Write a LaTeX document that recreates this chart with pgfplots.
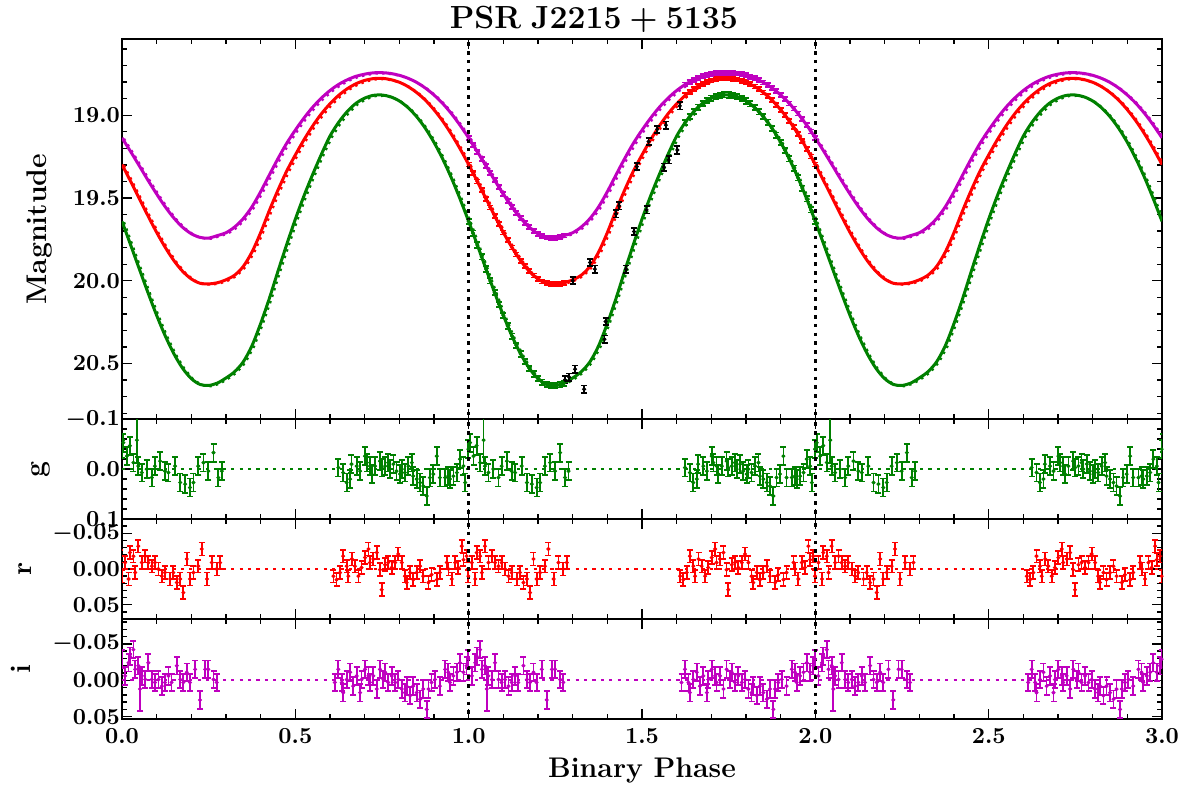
\RequirePackage{fix-cm}
\documentclass[border=0pt]{standalone}
\usepackage{pgfplots}
\pgfplotsset{compat=1.18}
\usepackage{pgfplotstable}

\definecolor{mg}{rgb}{0,0.5,0}
\definecolor{mr}{rgb}{1,0,0}
\definecolor{mm}{rgb}{0.75,0,0.75}

% model light curves, one orbit (plotted three times)
\pgfplotstableread{
p     g      r      i
0.000 19.641 19.298 19.137
0.025 19.784 19.400 19.220
0.050 19.929 19.504 19.306
0.075 20.072 19.608 19.393
0.100 20.209 19.708 19.476
0.125 20.334 19.799 19.554
0.150 20.442 19.879 19.622
0.175 20.529 19.943 19.677
0.200 20.591 19.989 19.716
0.225 20.626 20.015 19.738
0.250 20.632 20.019 19.742
0.275 20.618 20.012 19.727
0.300 20.587 19.994 19.710
0.325 20.549 19.966 19.675
0.350 20.489 19.913 19.624
0.375 20.392 19.826 19.553
0.400 20.258 19.709 19.462
0.425 20.107 19.576 19.361
0.450 19.942 19.452 19.262
0.475 19.782 19.338 19.170
0.500 19.628 19.240 19.090
0.525 19.487 19.148 19.017
0.550 19.358 19.065 18.952
0.575 19.237 18.992 18.897
0.600 19.126 18.931 18.851
0.625 19.043 18.880 18.814
0.650 18.977 18.840 18.786
0.675 18.928 18.810 18.765
0.700 18.897 18.790 18.752
0.725 18.880 18.779 18.744
0.750 18.878 18.777 18.743
0.775 18.889 18.785 18.748
0.800 18.914 18.801 18.759
0.825 18.954 18.827 18.777
0.850 19.009 18.863 18.802
0.875 19.079 18.909 18.836
0.900 19.164 18.967 18.878
0.925 19.264 19.035 18.929
0.950 19.378 19.114 18.990
0.975 19.505 19.202 19.060
1.000 19.641 19.298 19.137
}\curves

% observed g, r, i photometry
\pgfplotstableread{
p      g      r      i
1.0000 19.641 19.298 19.137
1.0125 19.712 19.348 19.178
1.0250 19.784 19.400 19.220
1.0375 19.856 19.452 19.263
1.0500 19.929 19.504 19.306
1.0625 20.001 19.557 19.350
1.0750 20.072 19.608 19.393
1.0875 20.142 19.659 19.435
1.1000 20.209 19.708 19.476
1.1125 20.273 19.755 19.516
1.1250 20.334 19.799 19.554
1.1375 20.390 19.841 19.589
1.1500 20.442 19.879 19.622
1.1625 20.488 19.913 19.651
1.1750 20.529 19.943 19.677
1.1875 20.563 19.968 19.699
1.2000 20.591 19.989 19.716
1.2125 20.612 20.004 19.730
1.2250 20.626 20.015 19.738
1.2375 20.632 20.020 19.743
1.2500 20.632 20.019 19.742
1.2625 20.629 20.018 19.737
1.2750 20.618 20.012 19.727
1.6250 19.043 18.880 18.814
1.6375 19.008 18.859 18.799
1.6500 18.977 18.840 18.786
1.6625 18.951 18.824 18.775
1.6750 18.928 18.810 18.765
1.6875 18.911 18.799 18.758
1.7000 18.897 18.790 18.752
1.7125 18.887 18.783 18.747
1.7250 18.880 18.779 18.744
1.7375 18.877 18.777 18.743
1.7500 18.878 18.777 18.743
1.7625 18.881 18.780 18.745
1.7750 18.889 18.785 18.748
1.7875 18.900 18.792 18.753
1.8000 18.914 18.801 18.759
1.8125 18.932 18.813 18.767
1.8250 18.954 18.827 18.777
1.8375 18.980 18.843 18.788
1.8500 19.009 18.863 18.802
1.8625 19.042 18.885 18.818
1.8750 19.079 18.909 18.836
1.8875 19.120 18.937 18.856
1.9000 19.164 18.967 18.878
1.9125 19.212 18.999 18.903
1.9250 19.264 19.035 18.929
1.9375 19.320 19.073 18.959
1.9500 19.378 19.114 18.990
1.9625 19.440 19.157 19.024
1.9750 19.505 19.202 19.060
1.9875 19.572 19.249 19.098
2.0000 19.641 19.298 19.137
}\obs

% other-instrument points (black)
\pgfplotstableread{
p     v
1.300 19.999
1.350 19.890
1.364 19.930
1.425 19.596
1.434 19.548
1.485 19.310
1.519 19.159
1.544 19.085
1.569 19.060
1.609 18.944
1.278 20.598
1.290 20.582
1.307 20.534
1.333 20.655
1.392 20.353
1.395 20.246
1.454 19.930
1.477 19.703
1.513 19.572
1.563 19.314
1.577 19.270
1.602 19.210
}\blk

% residuals, one orbit
\pgfplotstableread{
p     v
0.624 -0.003
0.638 0.007
0.648 0.027
0.658 0.020
0.662 -0.010
0.677 -0.006
0.687 0.004
0.701 -0.026
0.706 -0.013
0.715 -0.006
0.720 0.010
0.730 -0.006
0.744 -0.016
0.749 -0.003
0.759 -0.006
0.768 -0.013
0.773 0.000
0.783 -0.010
0.792 0.004
0.802 0.010
0.807 0.000
0.816 0.007
0.826 -0.006
0.836 -0.013
0.840 0.014
0.850 0.020
0.860 0.027
0.869 0.034
0.879 0.054
0.888 0.017
0.898 0.010
0.908 -0.026
0.917 0.017
0.932 0.017
0.941 0.014
0.946 0.020
0.956 0.014
0.966 0.007
0.975 -0.020
0.985 -0.006
0.990 0.027
0.999 -0.040
1.004 -0.053
1.014 -0.026
1.023 -0.047
1.033 -0.013
1.047 -0.006
1.057 0.007
1.071 0.000
1.086 0.017
1.095 -0.006
1.110 -0.016
1.124 0.004
1.134 0.007
1.153 -0.006
1.168 0.027
1.182 0.030
1.196 0.037
1.206 0.027
1.220 -0.006
1.235 -0.013
1.249 0.004
1.264 -0.033
1.278 0.017
1.288 0.004
}\gres

\pgfplotstableread{
p     v
0.610 0.010
0.619 0.015
0.629 0.005
0.638 -0.018
0.648 -0.004
0.653 0.010
0.663 -0.014
0.672 -0.004
0.682 0.010
0.691 -0.002
0.701 -0.016
0.711 -0.028
0.715 -0.009
0.725 -0.014
0.735 -0.023
0.744 0.001
0.749 0.029
0.759 -0.006
0.768 -0.009
0.778 -0.002
0.788 -0.009
0.797 -0.021
0.807 -0.009
0.816 0.010
0.821 0.019
0.831 0.005
0.840 0.015
0.850 0.005
0.860 -0.004
0.869 0.010
0.884 0.019
0.893 0.008
0.908 0.015
0.917 0.005
0.937 -0.009
0.942 0.000
0.951 0.014
0.961 -0.009
0.970 -0.002
0.980 -0.032
0.985 -0.013
0.994 -0.018
0.999 0.010
1.009 -0.009
1.019 0.014
1.023 -0.023
1.033 -0.018
1.038 0.005
1.047 -0.032
1.057 -0.009
1.067 -0.018
1.076 -0.009
1.086 -0.004
1.095 -0.009
1.105 0.000
1.115 0.010
1.124 0.005
1.139 0.014
1.148 0.005
1.158 0.019
1.168 0.014
1.177 0.033
1.187 -0.014
1.196 0.014
1.206 0.005
1.220 -0.004
1.230 -0.028
1.245 0.014
1.259 -0.009
1.273 0.000
1.283 -0.009
}\rres

\pgfplotstableread{
p     v
0.614 0.003
0.624 -0.015
0.634 0.003
0.638 0.017
0.648 -0.001
0.658 -0.011
0.667 0.008
0.677 -0.006
0.687 0.017
0.691 -0.001
0.701 -0.015
0.711 -0.006
0.715 0.003
0.725 -0.006
0.735 0.012
0.744 -0.015
0.754 -0.001
0.759 -0.011
0.768 0.003
0.778 -0.006
0.788 0.003
0.797 -0.001
0.807 0.012
0.816 0.017
0.821 0.008
0.831 0.021
0.840 0.008
0.850 0.017
0.860 0.026
0.869 0.012
0.879 0.040
0.884 0.012
0.893 0.003
0.903 -0.001
0.917 0.008
0.932 -0.015
0.941 -0.011
0.946 0.003
0.956 -0.006
0.966 -0.011
0.975 -0.024
0.985 -0.011
0.994 -0.020
0.999 -0.029
1.009 -0.006
1.019 -0.024
1.023 -0.033
1.033 -0.042
1.038 -0.015
1.047 -0.020
1.057 -0.006
1.067 -0.001
1.076 -0.024
1.086 -0.001
1.095 0.003
1.105 -0.001
1.115 0.008
1.124 0.003
1.134 -0.006
1.143 0.003
1.158 -0.020
1.168 -0.001
1.177 0.003
1.187 -0.011
1.196 0.003
1.211 -0.015
1.225 0.027
1.240 -0.015
1.249 -0.015
1.264 -0.001
1.273 0.003
}\ires

\pgfplotsset{
  lc/.style={scale only axis, width=520pt, xmin=0, xmax=3, y dir=reverse,
    anchor=south west, clip=true, scaled y ticks=false, scaled x ticks=false,
    axis line style={line width=0.8pt},
    tick style={black, line width=0.7pt},
    major tick length=5pt, minor tick length=2.6pt,
    tick align=inside, tick pos=both,
    xtick={0,0.5,1,1.5,2,2.5,3}, minor x tick num=4, minor y tick num=4,
    tick label style={font=\fontsize{11.5}{13}\selectfont\boldmath},
    xticklabel style={yshift=-1pt, /pgf/number format/fixed, /pgf/number format/fixed zerofill,
      /pgf/number format/precision=1},
    label style={font=\fontsize{14.2}{17}\selectfont\bfseries}},
  yp/.style={yticklabel style={xshift=2.5pt, /pgf/number format/fixed,
      /pgf/number format/fixed zerofill, /pgf/number format/precision=#1}},
  ebar/.style={only marks, mark=*, mark size=0.8pt, color=#1,
    error bars/y dir=both,
    error bars/error bar style={line width=0.9pt, #1},
    error bars/error mark options={rotate=90, line width=0.9pt, mark size=1.5pt, #1}},
  model/.style={#1, line width=1.5pt},
  dmodel/.style={#1, line width=1.1pt, dash pattern=on 1.2pt off 2.2pt},
  zline/.style={#1, line width=1.2pt, dash pattern=on 1.6pt off 2.6pt},
  vline/.style={black, line width=1.8pt, dash pattern=on 1.8pt off 2.6pt},
}

\begin{document}
\begin{tikzpicture}
\useasboundingbox (0,0) rectangle (594pt,394pt);

% light curves
\begin{axis}[lc, at={(61pt,184.4pt)}, height=190pt,
    ymin=18.541, ymax=20.836, ytick={18.5,19,19.5,20,20.5,21}, yp=1,
    xticklabels={},
    ylabel={Magnitude},
    ylabel style={at={(axis description cs:-0.079,0.5)}, anchor=center},
    title={$\mathbf{PSR\ J2215+5135}$},
    every axis title shift=0pt,
    title style={at={(axis description cs:0.4538,1.0284)}, anchor=base, yshift=0pt,
      font=\fontsize{16}{19}\selectfont\boldmath}]
\pgfplotsinvokeforeach{0,1,2}{
  \addplot[dmodel=mg] table[x expr=\thisrow{p}+#1+0.006, y expr=\thisrow{g}+0.005] {\curves};
  \addplot[dmodel=mr] table[x expr=\thisrow{p}+#1+0.006, y expr=\thisrow{r}+0.005] {\curves};
  \addplot[dmodel=mm] table[x expr=\thisrow{p}+#1+0.006, y expr=\thisrow{i}+0.005] {\curves};
  \addplot[model=mg, smooth] table[x expr=\thisrow{p}+#1, y=g] {\curves};
  \addplot[model=mr, smooth] table[x expr=\thisrow{p}+#1, y=r] {\curves};
  \addplot[model=mm, smooth] table[x expr=\thisrow{p}+#1, y=i] {\curves};
}
\addplot[ebar=mg, error bars/y fixed=0.016] table[x=p, y=g] {\obs};
\addplot[ebar=mr, error bars/y fixed=0.012] table[x=p, y=r] {\obs};
\addplot[ebar=mm, error bars/y fixed=0.012] table[x=p, y=i] {\obs};
\addplot[ebar=black, error bars/y fixed=0.022] table[x=p, y=v] {\blk};
\addplot[vline] coordinates {(1,18.4) (1,21)};
\addplot[vline] coordinates {(2,18.4) (2,21)};
\end{axis}

% g residuals
\begin{axis}[lc, at={(61pt,134.5pt)}, height=49.9pt,
    ymin=-0.1, ymax=0.1, ytick={-0.2,-0.1,0,0.1,0.2}, yp=1,
    xticklabels={}, ylabel={g},
    ylabel style={at={(axis description cs:-0.078,0.5)}, anchor=center}]
\addplot[zline=mg] coordinates {(0,0) (3,0)};
\pgfplotsinvokeforeach{-1,0,1,2}{
  \addplot[ebar=mg, error bars/y fixed=0.018] table[x expr=\thisrow{p}+#1, y=v] {\gres};
  \addplot[ebar=mg, error bars/y fixed=0.045] coordinates {(1.043+#1,-0.058)};
}
\addplot[vline] coordinates {(1,-0.2) (1,0.2)};
\addplot[vline] coordinates {(2,-0.2) (2,0.2)};
\end{axis}

% r residuals
\begin{axis}[lc, at={(61pt,84.5pt)}, height=50pt,
    ymin=-0.07, ymax=0.07, ytick={-0.1,-0.05,0,0.05,0.1}, yp=2,
    xticklabels={}, ylabel={r},
    ylabel style={at={(axis description cs:-0.093,0.5)}, anchor=center}]
\addplot[zline=mr] coordinates {(0,0) (3,0)};
\pgfplotsinvokeforeach{-1,0,1,2}{
  \addplot[ebar=mr, error bars/y fixed=0.009] table[x expr=\thisrow{p}+#1, y=v] {\rres};
}
\addplot[vline] coordinates {(1,-0.2) (1,0.2)};
\addplot[vline] coordinates {(2,-0.2) (2,0.2)};
\end{axis}

% i residuals
\begin{axis}[lc, at={(61pt,34.4pt)}, height=50.1pt,
    ymin=-0.084, ymax=0.0534, ytick={-0.1,-0.05,0,0.05,0.1}, yp=2,
    ylabel={i},
    ylabel style={at={(axis description cs:-0.097,0.5)}, anchor=center},
    xlabel={Binary Phase},
    xlabel style={at={(axis description cs:0.5,-0.577)}, anchor=base}]
\addplot[zline=mm] coordinates {(0,0) (3,0)};
\pgfplotsinvokeforeach{-1,0,1,2}{
  \addplot[ebar=mm, error bars/y fixed=0.012] table[x expr=\thisrow{p}+#1, y=v] {\ires};
  \addplot[ebar=mm, error bars/y fixed=0.03] coordinates {(1.052+#1,0.012)};
}
\addplot[vline] coordinates {(1,-0.2) (1,0.2)};
\addplot[vline] coordinates {(2,-0.2) (2,0.2)};
\end{axis}
\end{tikzpicture}
\end{document}
